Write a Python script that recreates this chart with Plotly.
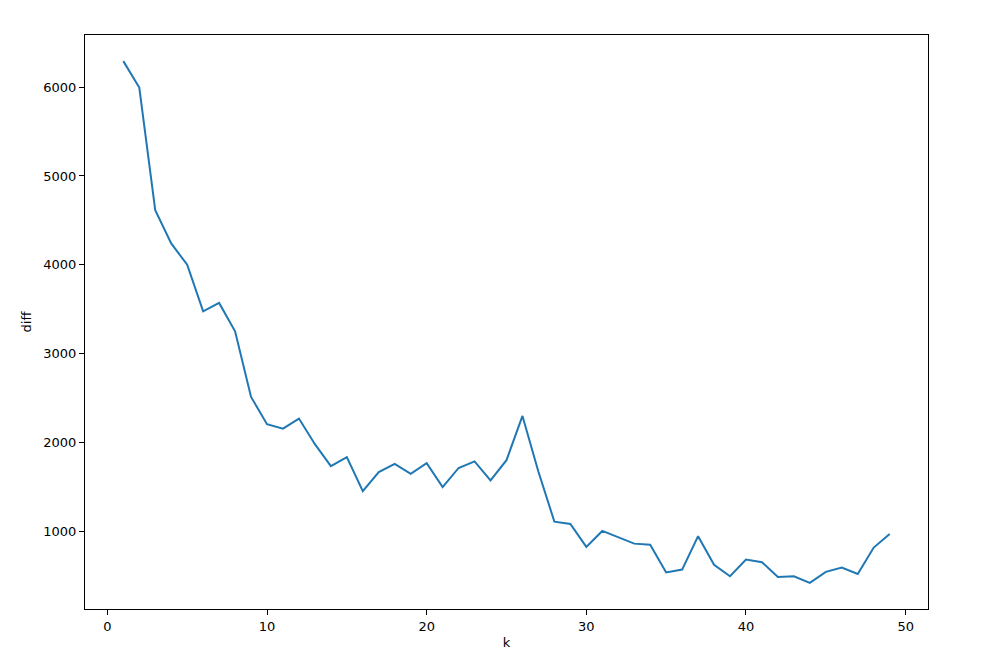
import plotly.graph_objects as go

k = list(range(1, 50))
diff = [6293, 5995, 4615, 4240, 4000, 3475, 3570, 3250, 2512, 2205,
        2155, 2268, 1980, 1733, 1835, 1452, 1665, 1757, 1645, 1767,
        1497, 1712, 1786, 1572, 1800, 2298, 1670, 1107, 1082, 823,
        1003, 933, 860, 848, 535, 568, 944, 621, 493, 680,
        651, 485, 492, 418, 542, 590, 519, 816, 968]

fig = go.Figure()
fig.add_trace(go.Scatter(x=k, y=diff, mode='lines',
                         line=dict(color='#1f77b4', width=2)))

axis_style = dict(showgrid=False, zeroline=False, showline=True, linecolor='black',
                  linewidth=1, mirror=True, ticks='outside', ticklen=5, tickwidth=1,
                  tickcolor='black', tickfont=dict(family='DejaVu Sans', size=13, color='black'))

fig.update_xaxes(range=[-1.4, 51.4], tickvals=[0, 10, 20, 30, 40, 50],
                 title=dict(text='k', font=dict(family='DejaVu Sans', size=13, color='black'), standoff=5),
                 **axis_style)
fig.update_yaxes(range=[124, 6587], tickvals=[1000, 2000, 3000, 4000, 5000, 6000],
                 title=dict(text='diff', font=dict(family='DejaVu Sans', size=13, color='black'), standoff=8),
                 **axis_style)

# page body has an 8px margin, so shift the plot area back
fig.update_layout(width=986, height=668, plot_bgcolor='white', paper_bgcolor='white',
                  margin=dict(l=77, r=66, t=27, b=67), showlegend=False)

fig.write_html("out.html")
